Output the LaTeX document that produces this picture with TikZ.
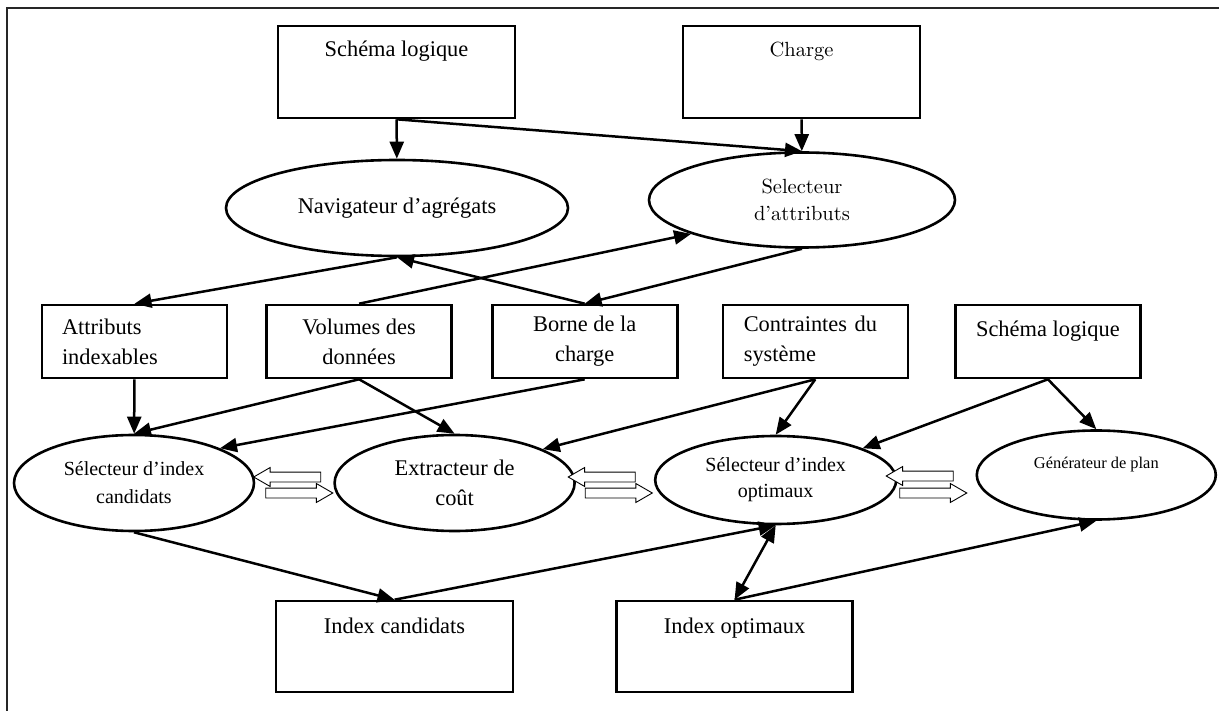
\documentclass[tikz,border=0pt]{standalone}
\usepackage{fontspec}
\setmainfont{Liberation Serif}
\newfontfamily\lmfont{lmroman10-regular.otf}
\usetikzlibrary{arrows.meta,positioning,shapes.geometric,shapes.arrows,calc}

\begin{document}
\begin{tikzpicture}[x=1pt,y=-1pt,>={Triangle[length=17pt,width=14pt]},line width=2.5pt,
    node distance=78pt,font=\fontsize{22.4}{30}\selectfont,
    topbox/.style={draw,rectangle,line width=2.6pt,inner sep=0pt,minimum width=237pt,text height=31pt,text depth=61pt},
    rowbox/.style={draw,rectangle,line width=2.6pt,inner sep=0pt,minimum width=185pt,minimum height=73pt,align=center},
    procell/.style={draw,ellipse,line width=2.6pt,inner sep=0pt,minimum width=240pt,minimum height=96pt,align=center},
    hollow/.style={draw,single arrow,fill=white,line width=0.9pt,minimum height=67pt,inner xsep=0pt,inner ysep=4.5pt,
      outer sep=0pt,single arrow head extend=4.5pt,single arrow tip angle=60}]
    \useasboundingbox (0,0) rectangle (1219,711);
    \draw[line width=2pt,black!85] (7,711) -- (7,8) -- (1219,8);

    % top
    \node[topbox] (schema) at (396.5,72) {Schéma logique};
    \node[topbox,font=\lmfont\fontsize{20.5}{27}\selectfont] (charge) at (801.5,72) {Charge};
    \node[procell,minimum width=342pt] (nav) at (397,208) {Navigateur d’agrégats};
    \node[procell,minimum width=306pt,minimum height=95pt,font=\lmfont\fontsize{20.5}{27}\selectfont] (attsel) at (802,200) {Selecteur\\d’attributs};

    % inputs
    \node[rowbox,inner xsep=20pt,text width=145pt,align=left] (attr) at (134.5,341.5) {Attributs\\indexables};
    \node[rowbox] (vol) [right=37pt of attr] {Volumes des\\données};
    \node[rowbox] (borne) [right=38pt of vol] {Borne de la\\charge};
    \node[rowbox,inner xsep=21pt,text width=143pt,align=left] (contr) [right=43pt of borne] {Contraintes du\\système};
    \node[rowbox,text height=32pt,text depth=41pt,minimum height=0pt] (schema2) [right=45pt of contr] {Schéma logique};

    % modules
    \node[procell,font=\fontsize{20}{28}\selectfont] (candsel) at (134,483) {Sélecteur d’index\\candidats};
    \node[procell] (costx) [right=of candsel] {Extracteur de\\coût};
    \node[procell,minimum width=241pt,minimum height=88pt,font=\fontsize{20}{26}\selectfont] (optsel) [right=of costx,yshift=3pt] {Sélecteur d’index\\optimaux};
    \node[procell,minimum width=239pt,minimum height=89pt,font=\fontsize{16.4}{20}\selectfont,text height=12pt,text depth=26pt] (plangen) [right=of optsel,yshift=5pt] {Générateur de plan};

    % outputs
    \node[topbox,text height=32pt,text depth=59pt] (idxcand) at (394.5,646.5) {Index candidats};
    \node[topbox,text height=32pt,text depth=59pt,minimum width=236pt] (idxopt) [right=101pt of idxcand] {Index optimaux};

    % exchanges
    \node[hollow,shape border rotate=180] (c2) at (291.5,477) {};
    \node[hollow] (c1) at (295,493) {};
    \node[hollow,shape border rotate=180] (o2) at (606,477) {};
    \node[hollow] (o1) at (614.5,493) {};
    \node[hollow,shape border rotate=180] (p2) at (924,476) {};
    \node[hollow] (p1) at (929,493) {};

    \path[->] (schema) edge (nav);
    \path[->] (schema.south) edge (attsel.north);
    \path[->] (charge) edge (attsel);
    \path[->] (nav.south) edge (attr.north);
    \path[->] (borne.north) edge (nav.south);
    \path[->] (attsel.south) edge (borne.north);
    \path[->] (vol.north) edge (attsel.197);
    \path[->] (attr) edge (candsel);
    \path[->] (vol.south) edge (candsel.north);
    \path[->] (vol.south) edge (costx.north);
    \path[->] (borne.south) edge (candsel.22);
    \path[->] (contr.south) edge (costx.21);
    \path[->] (contr.south) edge (optsel.north);
    \path[->] (schema2.south) edge (optsel.20);
    \path[->] (schema2.south) edge (plangen.north);
    \path[->] (candsel.south) edge (idxcand.north);
    \path[->] (idxcand.north) edge (optsel.south);
    \path[<->] (idxopt.north) edge (optsel.south);
    \path[->] (idxopt.north) edge (plangen.south);
\end{tikzpicture}
\end{document}
